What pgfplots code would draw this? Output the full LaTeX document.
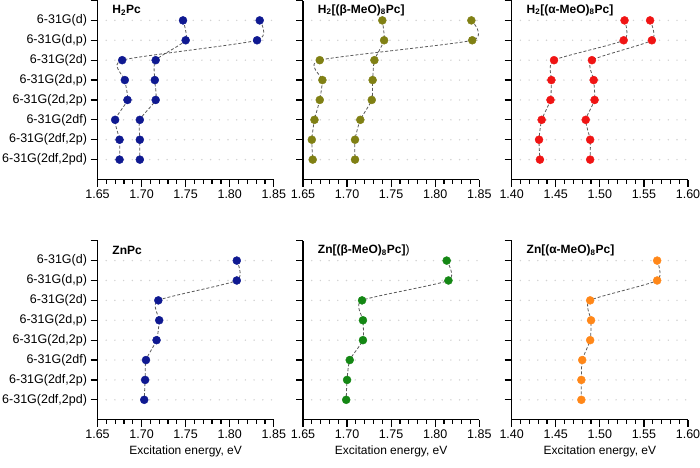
\documentclass[border=0pt]{standalone}
\usepackage{pgfplots}
\pgfplotsset{compat=1.18}
\usepackage{fontspec}
\setmainfont{Liberation Sans}
\definecolor{cnavy}{RGB}{15,25,145}
\definecolor{colive}{RGB}{128,128,20}
\definecolor{cred}{RGB}{240,20,20}
\definecolor{cgreen}{RGB}{20,135,20}
\definecolor{corange}{RGB}{255,135,25}
\tikzset{
  ptitle/.style={anchor=west, font=\bfseries\fontsize{12}{14}\selectfont},
  dline/.style={black!65, line width=0.8pt, dash pattern=on 3pt off 2pt, smooth, tension=0.35},
}
\pgfplotsset{
  panel/.style={
    scale only axis, width=176.3pt, height=179pt,
    ymin=0, ymax=9,
    axis x line*=bottom, axis y line*=left,
    axis line style={line width=1.5pt, -},
    tick align=outside,
    major tick length=7pt, minor tick length=4pt,
    every tick/.style={black, line width=1.2pt},
    minor x tick num=4,
    ytick={1,...,8},
    extra y ticks={9}, extra y tick labels={},
    extra y tick style={grid=none},
    ymajorgrids,
    major grid style={gray!35, line width=1.6pt, dash pattern=on 0pt off 8.7pt, line cap=round},
    xticklabel style={/pgf/number format/fixed, /pgf/number format/fixed zerofill, /pgf/number format/precision=2},
    /pgf/number format/assume math mode=true,
    tick label style={font=\fontsize{12.5}{14}\selectfont},
    label style={font=\fontsize{12}{14}\selectfont},
    xlabel style={at={(axis description cs:0.5,0)}, anchor=center, yshift=-31.4pt},
    yticklabels={},
    clip=false,
  },
  labeled/.style={yticklabels={{6-31G(2df,2pd)},{6-31G(2df,2p)},{6-31G(2df)},{6-31G(2d,2p)},{6-31G(2d,p)},{6-31G(2d)},{6-31G(d,p)},{6-31G(d)}}},
  lowE/.style={xmin=1.65, xmax=1.85, xtick={1.65,1.70,...,1.86}},
  alphaE/.style={xmin=1.40, xmax=1.60, xtick={1.40,1.45,...,1.61}},
}
\begin{document}
\begin{tikzpicture}
\path[use as bounding box] (0,0) rectangle (700pt,467pt);
% ---------- top row ----------
\begin{axis}[panel, labeled, lowE, at={(97.5pt,287.5pt)}, anchor=south west]
\addplot[dline] coordinates {(1.834,8)(1.831,7)(1.678,6)(1.681,5)(1.684,4)(1.670,3)(1.675,2)(1.675,1)};
\addplot[dline] coordinates {(1.747,8)(1.750,7)(1.716,6)(1.715,5)(1.716,4)(1.698,3)(1.698,2)(1.698,1)};
\addplot[only marks, mark=*, mark size=4pt, color=cnavy] coordinates {(1.834,8)(1.831,7)(1.678,6)(1.681,5)(1.684,4)(1.670,3)(1.675,2)(1.675,1)};
\addplot[only marks, mark=*, mark size=4pt, color=cnavy] coordinates {(1.747,8)(1.750,7)(1.716,6)(1.715,5)(1.716,4)(1.698,3)(1.698,2)(1.698,1)};
\node[ptitle] at (rel axis cs:0.065,0.947) {H\textsubscript{2}Pc};
\end{axis}
\begin{axis}[panel, lowE, at={(303pt,287.5pt)}, anchor=south west]
\addplot[dline] coordinates {(1.841,8)(1.842,7)(1.669,6)(1.672,5)(1.669,4)(1.663,3)(1.660,2)(1.661,1)};
\addplot[dline] coordinates {(1.740,8)(1.742,7)(1.731,6)(1.729,5)(1.728,4)(1.715,3)(1.709,2)(1.709,1)};
\addplot[only marks, mark=*, mark size=4pt, color=colive] coordinates {(1.841,8)(1.842,7)(1.669,6)(1.672,5)(1.669,4)(1.663,3)(1.660,2)(1.661,1)};
\addplot[only marks, mark=*, mark size=4pt, color=colive] coordinates {(1.740,8)(1.742,7)(1.731,6)(1.729,5)(1.728,4)(1.715,3)(1.709,2)(1.709,1)};
\node[ptitle] at (rel axis cs:0.065,0.947) {H\textsubscript{2}[(β-MeO)\textsubscript{8}Pc]};
\end{axis}
\begin{axis}[panel, alphaE, at={(511.7pt,287.5pt)}, anchor=south west]
\addplot[dline] coordinates {(1.528,8)(1.527,7)(1.448,6)(1.445,5)(1.444,4)(1.434,3)(1.431,2)(1.432,1)};
\addplot[dline] coordinates {(1.557,8)(1.559,7)(1.491,6)(1.493,5)(1.494,4)(1.484,3)(1.489,2)(1.489,1)};
\addplot[only marks, mark=*, mark size=4pt, color=cred] coordinates {(1.528,8)(1.527,7)(1.448,6)(1.445,5)(1.444,4)(1.434,3)(1.431,2)(1.432,1)};
\addplot[only marks, mark=*, mark size=4pt, color=cred] coordinates {(1.557,8)(1.559,7)(1.491,6)(1.493,5)(1.494,4)(1.484,3)(1.489,2)(1.489,1)};
\node[ptitle] at (rel axis cs:0.065,0.947) {H\textsubscript{2}[(α-MeO)\textsubscript{8}Pc]};
\end{axis}
% ---------- bottom row ----------
\begin{axis}[panel, labeled, lowE, at={(97.5pt,47.3pt)}, anchor=south west, xlabel={Excitation energy, eV}]
\addplot[dline] coordinates {(1.808,8)(1.808,7)(1.719,6)(1.720,5)(1.717,4)(1.705,3)(1.704,2)(1.703,1)};
\addplot[only marks, mark=*, mark size=4pt, color=cnavy] coordinates {(1.808,8)(1.808,7)(1.719,6)(1.720,5)(1.717,4)(1.705,3)(1.704,2)(1.703,1)};
\node[ptitle] at (rel axis cs:0.065,0.947) {ZnPc};
\end{axis}
\begin{axis}[panel, lowE, at={(303pt,47.3pt)}, anchor=south west, xlabel={Excitation energy, eV}]
\addplot[dline] coordinates {(1.813,8)(1.815,7)(1.717,6)(1.718,5)(1.718,4)(1.703,3)(1.700,2)(1.699,1)};
\addplot[only marks, mark=*, mark size=4pt, color=cgreen] coordinates {(1.813,8)(1.815,7)(1.717,6)(1.718,5)(1.718,4)(1.703,3)(1.700,2)(1.699,1)};
\node[ptitle] at (rel axis cs:0.065,0.947) {Zn[(β-MeO)\textsubscript{8}Pc]\textmd{)}};
\end{axis}
\begin{axis}[panel, alphaE, at={(511.7pt,47.3pt)}, anchor=south west, xlabel={Excitation energy, eV}]
\addplot[dline] coordinates {(1.565,8)(1.565,7)(1.489,6)(1.490,5)(1.489,4)(1.480,3)(1.479,2)(1.479,1)};
\addplot[only marks, mark=*, mark size=4pt, color=corange] coordinates {(1.565,8)(1.565,7)(1.489,6)(1.490,5)(1.489,4)(1.480,3)(1.479,2)(1.479,1)};
\node[ptitle] at (rel axis cs:0.065,0.947) {Zn[(α-MeO)\textsubscript{8}Pc]};
\end{axis}
\end{tikzpicture}
\end{document}
